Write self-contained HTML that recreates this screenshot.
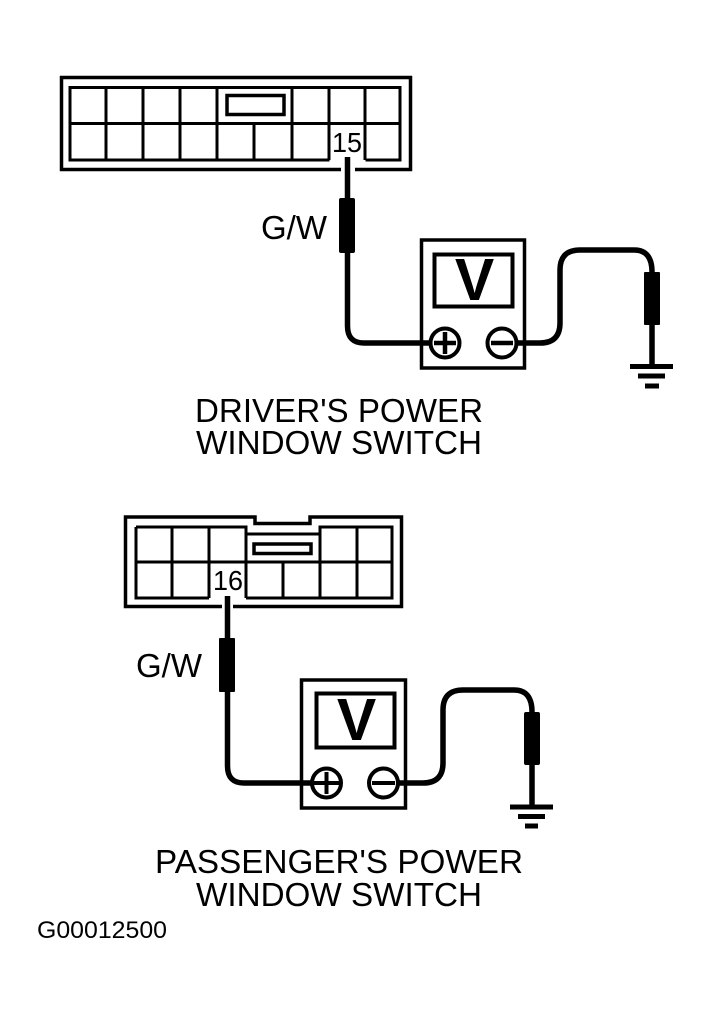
<!DOCTYPE html>
<html>
<head>
<meta charset="utf-8">
<style>
html,body{margin:0;padding:0;background:#fff;}
svg{display:block;}
text{font-family:"Liberation Sans",sans-serif;fill:#000;}
</style>
</head>
<body>
<svg width="711" height="1014" viewBox="0 0 711 1014" xmlns="http://www.w3.org/2000/svg">
<rect width="711" height="1014" fill="#fff"/>

<!-- TOP CONNECTOR -->
<g fill="none" stroke="#000">
  <path d="M341 169.500H61.500V77.500H410.500V169.500H355" stroke-width="3.500"/>
  <path d="M70 87.500H400V123.500H70Z" stroke-width="3"/>
  <path d="M329.500 160H70V123M365.500 160H400V123" stroke-width="3"/>
  <path d="M106 87V160M143 87V160M180 87V160M217 87V160M254 124V160M292 87V160M329 87V160M365 87V160" stroke-width="3"/>
  <rect x="227" y="95.500" width="57" height="19" stroke-width="3.500"/>
</g>
<text x="332" y="152" font-size="28" textLength="30" lengthAdjust="spacingAndGlyphs">15</text>

<!-- TOP WIRES -->
<g fill="none" stroke="#000" stroke-linecap="butt">
  <path d="M347.500 157V326Q347.500 343 364 343H432" stroke-width="5.500"/>
  <path d="M516 343H540Q560 343 560 323V270Q560 250 580 250H634Q652 250 652 272V366" stroke-width="5.500"/>
</g>
<rect x="339" y="198" width="16" height="55" rx="2" fill="#000"/>
<rect x="644" y="272" width="16" height="53" rx="1" fill="#000"/>

<!-- TOP METER -->
<rect x="421.500" y="240" width="103" height="128" fill="none" stroke="#000" stroke-width="3.500"/>
<rect x="434.500" y="254.500" width="78" height="52" fill="none" stroke="#000" stroke-width="4"/>
<text x="474.500" y="300" font-size="59" font-weight="bold" text-anchor="middle">V</text>
<g fill="#fff" stroke="#000" stroke-width="4">
  <circle cx="445" cy="343" r="14.500"/>
  <circle cx="502" cy="343" r="14.500"/>
</g>
<path d="M434 343H456M445 332V354M491 343H513" stroke="#000" stroke-width="4.500" fill="none"/>

<!-- TOP GROUND -->
<path d="M630 366.500H673M638 376H665M645 386H659" stroke="#000" stroke-width="5" fill="none"/>

<text x="261" y="239" font-size="33" textLength="66" lengthAdjust="spacingAndGlyphs">G/W</text>
<text x="195" y="422" font-size="33.500" textLength="288" lengthAdjust="spacingAndGlyphs">DRIVER'S POWER</text>
<text x="196" y="454" font-size="33.500" textLength="286" lengthAdjust="spacingAndGlyphs">WINDOW SWITCH</text>

<!-- BOTTOM CONNECTOR -->
<g fill="none" stroke="#000">
  <path d="M222 606.500H125.500V517H255V523.500H310V517H401.500V606.500H233" stroke-width="3.500"/>
  <path d="M136 527H246V534H320V527H392V598H246M136 527V598H209" stroke-width="3"/>
  <path d="M136 562H392" stroke-width="3"/>
  <path d="M172 527V598M209 527V598M246 527V598M283 562V598M320 527V598M357 527V598" stroke-width="3"/>
  <rect x="254" y="544" width="57" height="9.500" stroke-width="3.500"/>
</g>
<text x="213" y="590" font-size="28" textLength="30" lengthAdjust="spacingAndGlyphs">16</text>

<!-- BOTTOM WIRES -->
<g fill="none" stroke="#000">
  <path d="M227.500 596V766Q227.500 783 244 783H314" stroke-width="5.500"/>
  <path d="M396 783H423Q443 783 443 763V710Q443 690 463 690H514Q532 690 532 712V806" stroke-width="5.500"/>
</g>
<rect x="219" y="638" width="16" height="54" rx="1" fill="#000"/>
<rect x="524" y="712" width="16" height="53" rx="2" fill="#000"/>

<!-- BOTTOM METER -->
<rect x="301.500" y="680" width="104" height="128" fill="none" stroke="#000" stroke-width="3.500"/>
<rect x="316.500" y="693.500" width="78" height="54" fill="none" stroke="#000" stroke-width="4"/>
<text x="356.500" y="740" font-size="59" font-weight="bold" text-anchor="middle">V</text>
<g fill="#fff" stroke="#000" stroke-width="4">
  <circle cx="326.500" cy="783" r="14.500"/>
  <circle cx="383.500" cy="783" r="14.500"/>
</g>
<path d="M313 783H340M326.500 772V794M372 783H395" stroke="#000" stroke-width="4" fill="none"/>

<!-- BOTTOM GROUND -->
<path d="M510 807H553M518 816.500H545M525 826H538" stroke="#000" stroke-width="5" fill="none"/>

<text x="136" y="677" font-size="33" textLength="66" lengthAdjust="spacingAndGlyphs">G/W</text>
<text x="155" y="873" font-size="33.500" textLength="368" lengthAdjust="spacingAndGlyphs">PASSENGER'S POWER</text>
<text x="196" y="906" font-size="33.500" textLength="286" lengthAdjust="spacingAndGlyphs">WINDOW SWITCH</text>
<text x="37" y="938" font-size="24" textLength="130" lengthAdjust="spacingAndGlyphs">G00012500</text>
</svg>
</body>
</html>
